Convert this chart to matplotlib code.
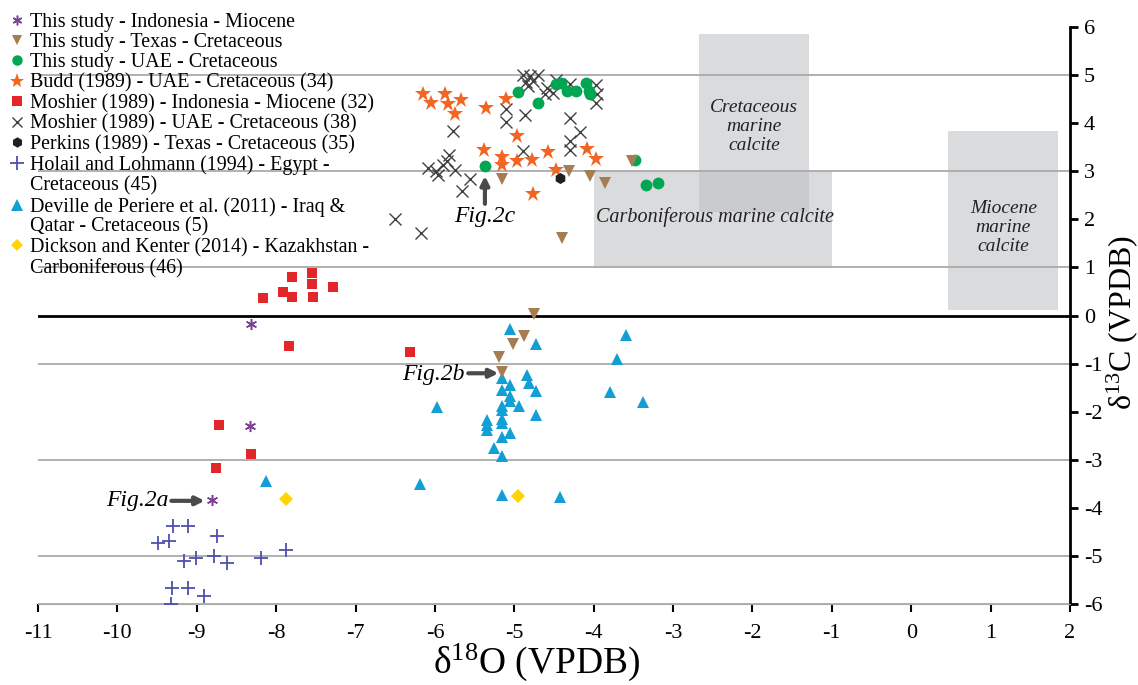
import matplotlib
matplotlib.use("Agg")
import matplotlib.pyplot as plt
from matplotlib.lines import Line2D
from matplotlib.patches import Rectangle

plt.rcParams['font.family'] = ['Liberation Serif', 'DejaVu Serif']
plt.rcParams['mathtext.fontset'] = 'custom'
plt.rcParams['mathtext.rm'] = 'Liberation Serif'
plt.rcParams['axes.unicode_minus'] = False

# ---- datos (d18O, d13C) ----
# This study - Indonesia - Miocene
ind_x = [-8.32, -8.33, -8.81]
ind_y = [-0.18, -2.30, -3.83]
# This study - Texas - Cretaceous
tex_x = [-5.15, -4.31, -4.05, -3.86, -3.52, -4.40, -4.75, -4.88, -5.02, -5.19, -5.16]
tex_y = [2.83, 3.01, 2.90, 2.76, 3.22, 1.62, 0.04, -0.43, -0.59, -0.86, -1.18]
# This study - UAE - Cretaceous
uae_x = [-4.95, -4.70, -4.47, -4.41, -4.33, -4.22, -4.10, -4.06, -4.05, -5.37, -3.48, -3.34, -3.19]
uae_y = [4.64, 4.41, 4.81, 4.83, 4.67, 4.66, 4.83, 4.67, 4.61, 3.10, 3.23, 2.72, 2.76]
# Budd (1989)
budd_x = [-6.15, -5.87, -6.05, -5.84, -5.67, -5.75, -5.36, -5.11, -4.97, -5.38,
          -5.15, -5.15, -4.97, -4.78, -4.58, -4.47, -4.09, -3.97, -4.76]
budd_y = [4.61, 4.61, 4.41, 4.39, 4.48, 4.19, 4.31, 4.50, 3.72, 3.44,
          3.29, 3.13, 3.22, 3.23, 3.39, 3.03, 3.45, 3.25, 2.53]
# Moshier (1989) - Indonesia
mosi_x = [-7.55, -7.80, -7.55, -7.29, -7.91, -7.80, -7.53, -8.16, -7.84, -8.72, -8.32, -8.76, -6.31]
mosi_y = [0.89, 0.79, 0.65, 0.60, 0.49, 0.39, 0.39, 0.36, -0.64, -2.28, -2.87, -3.16, -0.75]
# Moshier (1989) - UAE
mosu_x = [-4.89, -4.80, -4.70, -4.85, -4.76, -4.83, -4.59, -4.47, -4.51, -4.61, -4.30, -3.97,
          -3.96, -3.97, -5.10, -4.87, -4.30, -5.10, -4.17, -4.30, -4.30, -4.89, -5.77, -5.82,
          -5.85, -5.90, -6.09, -5.99, -5.96, -5.75, -5.56, -5.66, -6.50, -6.18]
mosu_y = [4.99, 4.97, 4.99, 4.86, 4.87, 4.77, 4.73, 4.90, 4.62, 4.60, 4.81, 4.79,
          4.60, 4.42, 4.30, 4.17, 4.11, 4.01, 3.82, 3.63, 3.44, 3.41, 3.83, 3.33,
          3.22, 3.13, 3.07, 3.01, 2.91, 3.03, 2.84, 2.59, 2.00, 1.72]
# Perkins (1989)
perk_x = [-4.43]
perk_y = [2.85]
# Holail and Lohmann (1994)
hol_x = [-9.30, -9.11, -9.49, -9.35, -8.75, -9.16, -9.01, -8.78, -8.62, -8.19, -7.88,
         -9.31, -9.11, -8.91, -9.33]
hol_y = [-4.38, -4.37, -4.73, -4.69, -4.58, -5.09, -5.04, -5.00, -5.15, -5.04, -4.88,
         -5.66, -5.66, -5.83, -6.00]
# Deville de Periere et al. (2011)
dev_x = [-5.05, -4.73, -4.84, -4.82, -4.73, -5.15, -5.05, -5.15, -5.05, -5.05, -4.94,
         -5.15, -5.15, -4.73, -5.15, -5.15, -5.34, -5.34, -5.34, -5.05, -5.15, -5.26,
         -5.15, -5.15, -4.42, -3.59, -3.70, -3.79, -3.38, -5.97, -6.19, -8.13]
dev_y = [-0.28, -0.59, -1.24, -1.40, -1.56, -1.29, -1.45, -1.54, -1.68, -1.77, -1.88,
         -1.88, -1.96, -2.07, -2.14, -2.24, -2.17, -2.28, -2.37, -2.44, -2.52, -2.75,
         -2.92, -3.73, -3.78, -0.40, -0.90, -1.59, -1.79, -1.90, -3.50, -3.43]
# Dickson and Kenter (2014)
dk_x = [-7.88, -4.95]
dk_y = [-3.81, -3.75]

labels = ["This study - Indonesia - Miocene",
          "This study - Texas - Cretaceous",
          "This study - UAE - Cretaceous",
          "Budd (1989) - UAE - Cretaceous (34)",
          "Moshier (1989) - Indonesia - Miocene (32)",
          "Moshier (1989) - UAE - Cretaceous (38)",
          "Perkins (1989) - Texas - Cretaceous (35)",
          "Holail and Lohmann (1994) - Egypt -",
          "Deville de Periere et al. (2011) - Iraq &",
          "Dickson and Kenter (2014) - Kazakhstan -"]
segundas = {7: "Cretaceous (45)", 8: "Qatar - Cretaceous (5)", 9: "Carboniferous (46)"}

fig = plt.figure(figsize=(11.38, 6.85), dpi=100)
ax = fig.add_axes([0.0334, 0.1178, 0.9068, 0.8432])
ax.set_xlim(-11, 2)
ax.set_ylim(-6, 6)

# cajas de calcita marina
gris = (0.74, 0.745, 0.76)
ax.add_patch(Rectangle((-2.67, 2.16), 1.38, 3.69, color=gris, alpha=0.55, lw=0, zorder=1))
ax.add_patch(Rectangle((-4.0, 1.0), 3.0, 2.0, color=gris, alpha=0.55, lw=0, zorder=1))
ax.add_patch(Rectangle((0.46, 0.11), 1.39, 3.73, color=gris, alpha=0.55, lw=0, zorder=1))
ax.text(-1.98, 3.92, "Cretaceous\nmarine\ncalcite", style='italic', fontsize=14,
        ha='center', va='center', linespacing=1.15, color='#222222', zorder=2)
ax.text(-2.47, 2.04, "Carboniferous marine calcite", style='italic', fontsize=14.5,
        ha='center', va='center', color='#222222', zorder=2)
ax.text(1.16, 1.83, "Miocene\nmarine\ncalcite", style='italic', fontsize=14,
        ha='center', va='center', linespacing=1.15, color='#222222', zorder=2)

# lineas horizontales
for yy in [5, 3, 1, -1, -3, -5, -6]:
    ax.axhline(yy, color='#aaaaaa', lw=1.3, zorder=1.5)
ax.axhline(0, color='black', lw=2, zorder=1.5)

# series
ax.plot(hol_x, hol_y, '+', color='#4f4fb0', ms=10, mew=1.3, ls='none', zorder=3)
ax.plot(mosu_x, mosu_y, 'x', color='#404040', ms=8.5, mew=1.0, ls='none', zorder=3)
ax.plot(budd_x, budd_y, '*', color='#f26522', ms=12, mew=0, ls='none', zorder=4)
ax.plot(uae_x, uae_y, 'o', color='#00a651', ms=8.5, mew=0, ls='none', zorder=4)
ax.plot(tex_x, tex_y, 'v', color='#a67c52', ms=8, mew=0, ls='none', zorder=5)
ax.plot(perk_x, perk_y, 'h', color='#231f20', ms=8, mew=0, ls='none', zorder=5)
ax.plot(mosi_x, mosi_y, 's', color='#e3262c', ms=7.5, mew=0, ls='none', zorder=4)
ax.plot(dev_x, dev_y, '^', color='#119fd6', ms=8, mew=0, ls='none', zorder=4)
ax.plot(dk_x, dk_y, 'D', color='#ffd400', ms=7, mew=0, ls='none', zorder=4)
ax.plot(ind_x, ind_y, marker=(6, 2, 0), color='#7e3f98', ms=8, mew=1.1, ls='none', zorder=5)

# flechas Fig.2
flecha = dict(arrowstyle='-|>,head_length=0.5,head_width=0.25', color='#4a4a4a', lw=3,
              shrinkA=0, shrinkB=0)
ax.annotate('', xy=(-5.37, 2.9), xytext=(-5.37, 2.32), arrowprops=flecha, zorder=6)
ax.text(-5.37, 2.05, "Fig.2c", style='italic', fontsize=17, ha='center', va='center')
ax.annotate('', xy=(-5.2, -1.2), xytext=(-5.58, -1.2), arrowprops=flecha, zorder=6)
ax.text(-5.62, -1.22, "Fig.2b", style='italic', fontsize=17, ha='right', va='center')
ax.annotate('', xy=(-8.9, -3.85), xytext=(-9.32, -3.85), arrowprops=flecha, zorder=6)
ax.text(-9.36, -3.85, "Fig.2a", style='italic', fontsize=17, ha='right', va='center')

# ejes
for lado in ['top', 'left']:
    ax.spines[lado].set_visible(False)
ax.spines['bottom'].set_color('#aaaaaa')
ax.spines['right'].set_linewidth(2)
ax.yaxis.tick_right()
ax.set_xticks(range(-11, 3))
ax.set_yticks(range(-6, 7))
ax.tick_params(axis='x', direction='out', length=6, width=1.5, labelsize=16, pad=8)
ax.tick_params(axis='y', direction='out', length=6, width=2, labelsize=16, pad=4)
fig.text(536 / 1138, 1 - 662 / 685, r"δ$\mathregular{^{18}}$O (VPDB)", fontsize=27,
         ha='center', va='center')
fig.text(1122 / 1138, 1 - 322 / 685, r"δ$\mathregular{^{13}}$C (VPDB)", fontsize=23,
         ha='center', va='center', rotation=90)

# leyenda
handles = [
    Line2D([], [], marker=(6, 2, 0), color='#7e3f98', ms=7, mew=1.1, ls='none'),
    Line2D([], [], marker='v', color='#a67c52', ms=7, mew=0, ls='none'),
    Line2D([], [], marker='o', color='#00a651', ms=7.5, mew=0, ls='none'),
    Line2D([], [], marker='*', color='#f26522', ms=11, mew=0, ls='none'),
    Line2D([], [], marker='s', color='#e3262c', ms=7, mew=0, ls='none'),
    Line2D([], [], marker='x', color='#404040', ms=7.5, mew=1.0, ls='none'),
    Line2D([], [], marker='h', color='#231f20', ms=7.5, mew=0, ls='none'),
    Line2D([], [], marker='+', color='#4f4fb0', ms=10, mew=1.3, ls='none'),
    Line2D([], [], marker='^', color='#119fd6', ms=8, mew=0, ls='none'),
    Line2D([], [], marker='D', color='#ffd400', ms=6.5, mew=0, ls='none'),
]
h_final, l_final = [], []
for i, (h, l) in enumerate(zip(handles, labels)):
    h_final.append(h)
    l_final.append(l)
    if i in segundas:
        h_final.append(Line2D([], [], ls='none'))
        l_final.append(segundas[i])
fig.legend(h_final, l_final, loc='upper left', bbox_to_anchor=(0.01, 0.981),
           frameon=False, fontsize=14.4, handlelength=0.6, handletextpad=0.35,
           labelspacing=0.06, borderpad=0, borderaxespad=0)

fig.savefig("out.png", dpi=100)
